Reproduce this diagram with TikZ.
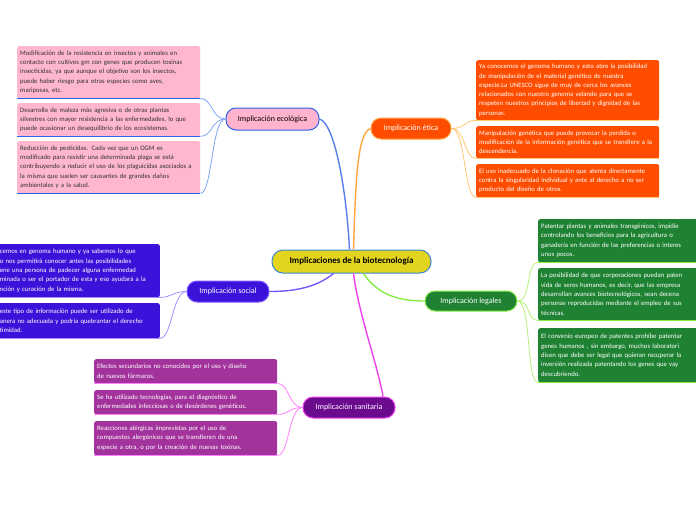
\documentclass[tikz,border=0pt]{standalone}
\usepackage{fontspec}
\setmainfont{Carlito}
\usetikzlibrary{calc}
\definecolor{cenfill}{HTML}{E3D41F}
\definecolor{cenline}{HTML}{3A86D0}
\definecolor{ecofill}{HTML}{FFB3CF}
\definecolor{ecoline}{HTML}{2E5FE6}
\definecolor{ecoleaf}{HTML}{FFB6CF}
\definecolor{ecoconn}{HTML}{7EA6F5}
\definecolor{etfill}{HTML}{FF4D00}
\definecolor{etline}{HTML}{FFA640}
\definecolor{etconn}{HTML}{FFC870}
\definecolor{sofill}{HTML}{3A12D9}
\definecolor{soline}{HTML}{7B55FF}
\definecolor{soconn}{HTML}{A88CFF}
\definecolor{lefill}{HTML}{1F8233}
\definecolor{leline}{HTML}{86EE46}
\definecolor{leconn}{HTML}{B4F27A}
\definecolor{safill}{HTML}{6C0A8E}
\definecolor{saline}{HTML}{F040F0}
\definecolor{saleaf}{HTML}{A2339C}
\definecolor{saconn}{HTML}{FF80FF}
\newcommand{\leaffont}{\fontsize{6.7}{9.3}\selectfont}
\begin{document}
\begin{tikzpicture}[x=1pt,y=-1pt,
  leaf/.style={rounded corners=2pt, inner xsep=3pt, inner ysep=2pt, align=left, font=\leaffont, text=white},
  hub/.style={rounded corners=10pt, minimum height=21pt, line width=1pt, font=\fontsize{8}{9}\selectfont, text=white},
  under/.style={line width=1.4pt},
  mainc/.style={line width=1.4pt},
  leafc/.style={line width=0.8pt}]
\clip (0,0) rectangle (696,520);
\fill[white] (0,0) rectangle (696,520);

% central
\node[rounded corners=11pt, fill=cenfill, draw=cenline, line width=1pt, minimum width=159pt, minimum height=23pt, font=\bfseries\fontsize{9}{10}\selectfont] (central) at (351.5,261.5) {Implicaciones de la biotecnología};

% branches
\node[hub, fill=ecofill, draw=ecoline, text=black, minimum width=93pt, minimum height=22pt] (eco) at (272.5,119) {Implicación ecológica};
\node[hub, fill=etfill, draw=etline, minimum width=80pt] (etica) at (411,128.5) {Implicación ética};
\node[hub, fill=sofill, draw=soline, minimum width=82pt] (social) at (228,291.5) {Implicación social};
\node[hub, fill=lefill, draw=leline, minimum width=92pt, minimum height=20pt] (legal) at (471,301) {Implicación legales};
\node[hub, fill=safill, draw=saline, minimum width=92pt] (sanit) at (349,407.5) {Implicación sanitaria};

% main connectors
\draw[mainc, ecoline!80] (eco.east) .. controls +(15,4) and +(-3,-60) .. ($(central.north)+(-2,0)$);
\draw[mainc, etline] (etica.west) .. controls +(-14,4) and +(2,-60) .. ($(central.north)+(2,0)$);
\draw[mainc, soline] ($(central.south)+(-18,0)$) .. controls +(-15,12) and +(30,0) .. (social.east);
\draw[mainc, leline] ($(central.south)+(12,0)$) .. controls +(15,22) and +(-25,0) .. (legal.west);
\draw[mainc, saline] ($(central.south)+(2,0)$) .. controls +(5,40) and +(-5,-30) .. ($(sanit.north)+(34,0)$);

% ecological leaves
\node[leaf, fill=ecoleaf, text=black!80, anchor=north west, text width=177pt, minimum height=52pt] (e1) at (17,46) {Modificación de la resistencia en insectos y animales en\\contacto con cultivos gm con genes que producen toxinas\\insecticidas, ya que aunque el objetivo son los insectos,\\puede haber riesgo para otras especies como aves,\\mariposas, etc.};
\node[leaf, fill=ecoleaf, text=black!80, anchor=north west, text width=177pt, minimum height=33pt] (e2) at (17,103) {Desarrollo de maleza más agresiva o de otras plantas\\silvestres con mayor resistencia a las enfermedades, lo que\\puede ocasionar un desequilibrio de los ecosistemas.};
\node[leaf, fill=ecoleaf, text=black!80, anchor=north west, text width=177pt, minimum height=52pt] (e3) at (17,141) {Reducción de pesticidas. Cada vez que un OGM es\\modificado para resistir una determinada plaga se está\\contribuyendo a reducir el uso de los plaguicidas asociados a\\la misma que suelen ser causantes de grandes daños\\ambientales y a la salud.};
\foreach \n in {e1,e2,e3}{
  \draw[under, ecoline] (\n.south west) -- (\n.south east);
  \draw[leafc, ecoconn] (eco.west) .. controls +(-14,0) and +(12,0) .. (\n.south east);
}

% ethics leaves
\node[leaf, fill=etfill, anchor=north west, text width=177pt, minimum height=60pt] (t1) at (476,60) {Ya conocemos el genoma humano y esto abre la posibilidad\\de manipulación de el material genético de nuestra\\especie.La UNESCO sigue de muy de cerca los avances\\relacionados con nuestro genoma velando para que se\\respeten nuestros principios de libertad y dignidad de las\\personas.};
\node[leaf, fill=etfill, anchor=north west, text width=177pt, minimum height=32pt] (t2) at (476,126) {Manipulación genética que puede provocar la perdida o\\modificación de la información genética que se transfiere a la\\descendencia.};
\node[leaf, fill=etfill, anchor=north west, text width=177pt, minimum height=33pt] (t3) at (476,164) {El uso inadecuado de la clonación que atenta directamente\\contra la singularidad individual y ante al derecho a no ser\\producto del diseño de otros.};
\foreach \n in {t1,t2,t3}{
  \draw[under, etconn] (\n.south west) -- (\n.south east);
  \draw[leafc, etconn] (etica.east) .. controls +(14,0) and +(-12,0) .. (\n.south west);
}

% social leaves
\node[leaf, fill=sofill, anchor=north east, text width=157pt, minimum height=53pt] (s1) at (160,244) {cemos en genoma humano y ya sabemos lo que\\o nos permitirá conocer antes las posibilidades\\ene una persona de padecer alguna enfermedad\\minada o ser el portador de esta y eso ayudará a la\\nción y curación de la misma.};
\node[leaf, fill=sofill, anchor=north east, text width=157pt, minimum height=35pt] (s2) at (160,303) {este tipo de información puede ser utilizado de\\anera no adecuada y podría quebrantar el derecho\\timidad.};
\foreach \n in {s1,s2}{
  \draw[under, soconn] (\n.south west) -- (\n.south east);
  \draw[leafc, soconn] (social.west) .. controls +(-14,0) and +(12,0) .. (\n.south east);
}

% legal leaves
\node[leaf, fill=lefill, anchor=north west, text width=194pt, minimum height=43pt] (l1) at (538,219) {Patentar plantas y animales transgénicos, impidie\\controlando los beneficios para la agricultura o\\ganadería en función de las preferencias o interes\\unos pocos.};
\node[leaf, fill=lefill, anchor=north west, text width=194pt, minimum height=52pt] (l2) at (538,268) {La posibilidad de que corporaciones puedan paten\\vida de seres humanos, es decir, que las empresa\\desarrollan avances biotecnológicos, sean decena\\personas reproducidas mediante el empleo de sus\\técnicas.};
\node[leaf, fill=lefill, anchor=north west, text width=194pt, minimum height=54pt] (l3) at (538,328) {El convenio europeo de patentes prohíbe patentar\\genes humanos , sin embargo, muchos laboratori\\dicen que debe ser legal que quieran recuperar la\\inversión realizada patentando los genes que vay\\descubriendo.};
\foreach \n in {l1,l2,l3}{
  \draw[under, leline] (\n.south west) -- (\n.south east);
  \draw[leafc, leconn] (legal.east) .. controls +(14,0) and +(-12,0) .. (\n.south west);
}

% sanitary leaves
\node[leaf, fill=saleaf, anchor=north west, text width=177pt, minimum height=24pt] (h1) at (94,359) {Efectos secundarios no conocidos por el uso y diseño\\de nuevos fármacos.};
\node[leaf, fill=saleaf, anchor=north west, text width=177pt, minimum height=24pt] (h2) at (94,390) {Se ha utilizado tecnologías, para el diagnóstico de\\enfermedades infecciosas o de desórdenes genéticos.};
\node[leaf, fill=saleaf, anchor=north west, text width=177pt, minimum height=34pt] (h3) at (94,421) {Reacciones alérgicas imprevistas por el uso de\\compuestos alergénicos que se transfieren de una\\especie a otra, o por la creación de nuevas toxinas.};
\foreach \n in {h1,h2,h3}{
  \draw[under, saconn] (\n.south west) -- (\n.south east);
  \draw[leafc, saconn] (sanit.west) .. controls +(-14,0) and +(12,0) .. (\n.south east);
}
\end{tikzpicture}
\end{document}
